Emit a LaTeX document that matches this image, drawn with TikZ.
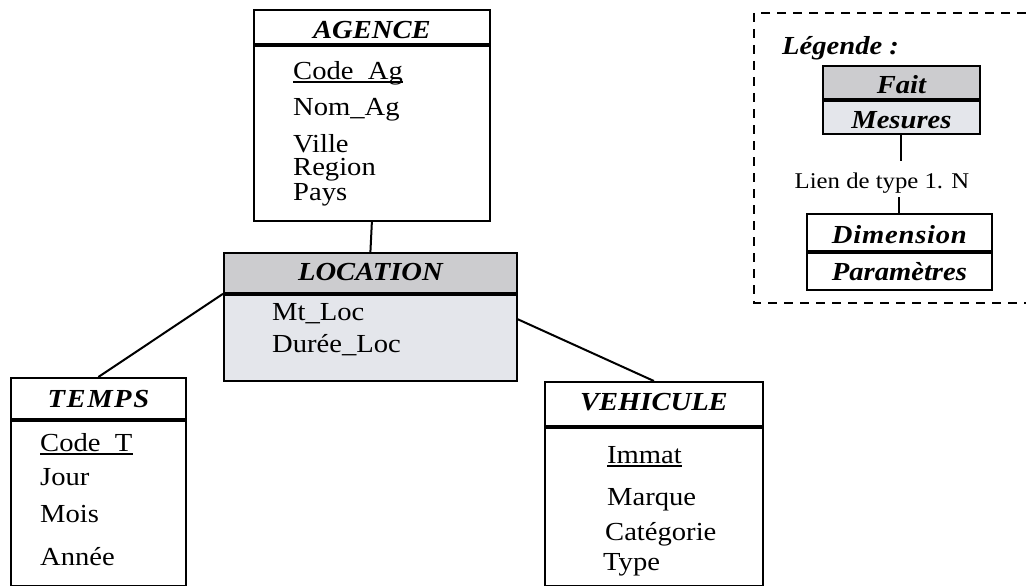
\documentclass[tikz,border=0pt]{standalone}
\usepackage{fontspec}
\setmainfont{Liberation Serif}[FakeStretch=1.1]
\usetikzlibrary{calc}
\definecolor{hdrgray}{RGB}{204,204,207}
\definecolor{bodygray}{RGB}{228,230,235}
\newcommand\titlefont{\fontsize{26}{30}\selectfont\bfseries\itshape}
\newcommand\attrfont{\fontsize{26}{30}\selectfont}
\newcommand\notefont{\fontsize{22.5}{26}\selectfont}
\tikzset{
  boxhead/.style={draw, line width=1.8pt, inner sep=0pt, anchor=north west, font=\titlefont},
  boxbody/.style={draw, line width=1.8pt, inner sep=0pt, anchor=north west},
  attr/.style={inner sep=0pt, anchor=base west, font=\attrfont, text height=17pt, text depth=0pt},
  keyline/.style={line width=1.3pt},
  link/.style={line width=2pt},
  legendframe/.style={line width=1.6pt, dash pattern=on 9pt off 7pt}
}
\begin{document}
\begin{tikzpicture}[x=1pt, y=-1pt]
\fill[white] (0,0) rectangle (1026,586);
\useasboundingbox (0,0) rectangle (1026,586);

% ---------- AGENCE ----------
\node[boxhead, minimum width=236pt, text height=29pt, text depth=5pt] (agh) at (253,9) {AGENCE};
\node[boxbody, minimum width=236pt, minimum height=175pt] (agb) at (agh.south west) {};
\node[attr] (ag1) at (293,80) {Code\_Ag};
\node[attr] (ag2) at (293,115) {Nom\_Ag};
\node[attr] (ag3) at (293,152) {Ville};
\node[attr] (ag4) at (293,175) {Region};
\node[attr] (ag5) at (293,200) {Pays};
\draw[keyline] ($(ag1.base west)+(0,2)$) -- ($(ag1.base east)+(0,2)$);

% ---------- LOCATION (fact) ----------
\node[boxhead, fill=hdrgray, minimum width=293pt, text height=28pt, text depth=12pt] (loh) at (223,252) {LOCATION};
\node[boxbody, fill=bodygray, minimum width=293pt, minimum height=86pt] (lob) at (loh.south west) {};
\node[attr] (lo1) at (272,320) {Mt\_Loc};
\node[attr] (lo2) at (272,352) {Durée\_Loc};

% ---------- TEMPS ----------
\node[boxhead, minimum width=175pt, text height=30pt, text depth=11pt, font=\titlefont\addfontfeatures{LetterSpace=6}] (teh) at (10,377) {TEMPS};
\node[boxbody, minimum width=175pt, minimum height=165pt] (teb) at (teh.south west) {};
\node[attr] (te1) at (40,451) {Code\_T};
\node[attr] (te2) at (40,485) {Jour};
\node[attr] (te3) at (40,522) {Mois};
\node[attr] (te4) at (40,565) {Année};
\draw[keyline] ($(te1.base west)+(0,3)$) -- ($(te1.base east)+(0,3)$);

% ---------- VEHICULE ----------
\node[boxhead, minimum width=218pt, text height=29pt, text depth=15pt] (veh) at (544,381) {VEHICULE};
\node[boxbody, minimum width=218pt, minimum height=158pt] (veb) at (veh.south west) {};
\node[attr] (ve1) at (607,463) {Immat};
\node[attr] (ve2) at (607,505) {Marque};
\node[attr] (ve3) at (605,540) {Catégorie};
\node[attr] (ve4) at (603,570) {Type};
\draw[keyline] ($(ve1.base west)+(0,3)$) -- ($(ve1.base east)+(0,3)$);

% ---------- links ----------
\draw[link] (agb.south) -- (loh.north);
\draw[link] (teh.north) -- (loh.south west);
\draw[link] ($(lob.north east)!0.29!(lob.south east)$) -- (veh.north);

% ---------- legend ----------
\draw[legendframe] (1026,13) -| (754,303) -- (1026,303);
\node[attr, font=\titlefont] (leg) at (782,55) {Légende :};
\node[boxhead, fill=hdrgray, minimum width=157pt, text height=28pt, text depth=5pt] (fait) at (822,65) {Fait};
\node[boxhead, fill=bodygray, minimum width=157pt, text height=28pt, text depth=5pt] (mes) at (fait.south west) {Mesures};
\node[inner sep=0pt, anchor=base, font=\notefont] (lien) at (882,188) {Lien de type 1. N};
\node[boxhead, minimum width=185pt, text height=30pt, text depth=7pt, font=\titlefont\addfontfeatures{LetterSpace=3}] (dim) at (806,213) {Dimension};
\node[boxhead, minimum width=185pt, text height=28pt, text depth=9pt] (par) at (dim.south west) {Paramètres};
\draw[link] (mes.south) -- ($(mes.south |- lien.north)+(0,-11)$);
\draw[link] ($(dim.north |- lien.south)+(0,4)$) -- (dim.north);
\end{tikzpicture}
\end{document}
